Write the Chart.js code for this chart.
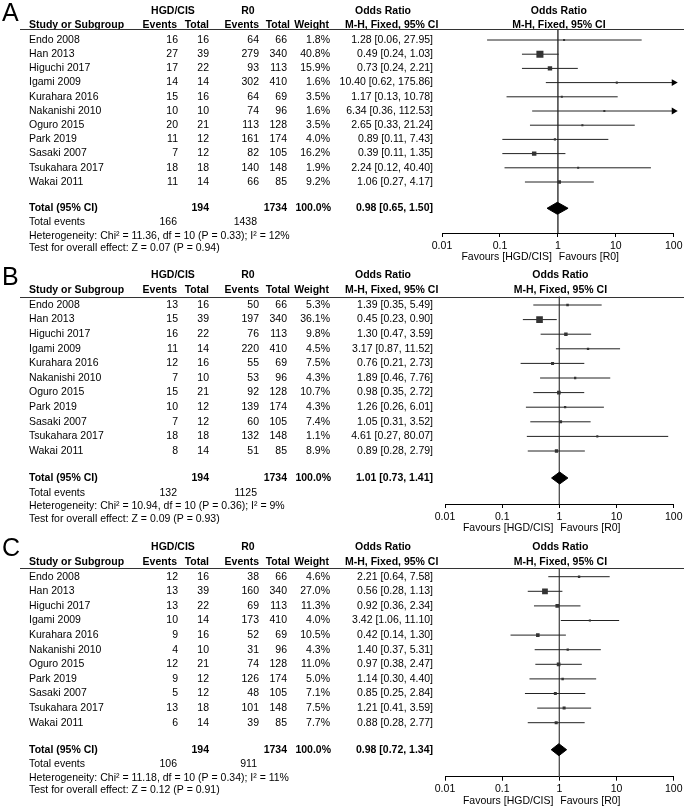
<!DOCTYPE html>
<html>
<head>
<meta charset="utf-8">
<script src="https://cdn.jsdelivr.net/npm/chart.js@4.4.0/dist/chart.umd.min.js"></script>
<style>
  body { margin: 0; background: #fff; }
  #wrap { position: relative; width: 685px; height: 807px; }
  .panel { position: absolute; left: 0; width: 685px; }
</style>
</head>
<body>
<div id="wrap">
  <div class="panel" style="top:0px;height:265px"><canvas id="panelA"></canvas></div>
  <div class="panel" style="top:265px;height:271px"><canvas id="panelB"></canvas></div>
  <div class="panel" style="top:536px;height:271px"><canvas id="panelC"></canvas></div>
</div>
<script>
// studies shared by the three analyses
const studies = ["Endo 2008", "Han 2013", "Higuchi 2017", "Igami 2009", "Kurahara 2016", "Nakanishi 2010",
  "Oguro 2015", "Park 2019", "Sasaki 2007", "Tsukahara 2017", "Wakai 2011"];
const hgdTotal = [16, 39, 22, 14, 16, 10, 21, 12, 12, 18, 14];
const r0Total = [66, 340, 113, 410, 69, 96, 128, 174, 105, 148, 85];
const tickVals = [0.01, 0.1, 1, 10, 100];
const tickLabels = ["0.01", "0.1", "1", "10", "100"];

// A
const hgdEventsA = [16, 27, 17, 14, 15, 10, 20, 11, 7, 18, 11];
const r0EventsA = [64, 279, 93, 302, 64, 74, 113, 161, 82, 140, 66];
const weightA = [1.8, 40.8, 15.9, 1.6, 3.5, 1.6, 3.5, 4.0, 16.2, 1.9, 9.2];
const orA = [1.28, 0.49, 0.73, 10.40, 1.17, 6.34, 2.65, 0.89, 0.39, 2.24, 1.06];
const loA = [0.06, 0.24, 0.24, 0.62, 0.13, 0.36, 0.33, 0.11, 0.11, 0.12, 0.27];
const hiA = [27.95, 1.03, 2.21, 175.86, 10.78, 112.53, 21.24, 7.43, 1.35, 40.40, 4.17];
const pooledA = [0.98, 0.65, 1.50];
const totEventsA = [166, 1438];
const hetA = "Heterogeneity: Chi² = 11.36, df = 10 (P = 0.33); I² = 12%";
const testA = "Test for overall effect: Z = 0.07 (P = 0.94)";

// B
const hgdEventsB = [13, 15, 16, 11, 12, 7, 15, 10, 7, 18, 8];
const r0EventsB = [50, 197, 76, 220, 55, 53, 92, 139, 60, 132, 51];
const weightB = [5.3, 36.1, 9.8, 4.5, 7.5, 4.3, 10.7, 4.3, 7.4, 1.1, 8.9];
const orB = [1.39, 0.45, 1.30, 3.17, 0.76, 1.89, 0.98, 1.26, 1.05, 4.61, 0.89];
const loB = [0.35, 0.23, 0.47, 0.87, 0.21, 0.46, 0.35, 0.26, 0.31, 0.27, 0.28];
const hiB = [5.49, 0.90, 3.59, 11.52, 2.73, 7.76, 2.72, 6.01, 3.52, 80.07, 2.79];
const pooledB = [1.01, 0.73, 1.41];
const totEventsB = [132, 1125];
const hetB = "Heterogeneity: Chi² = 10.94, df = 10 (P = 0.36); I² = 9%";
const testB = "Test for overall effect: Z = 0.09 (P = 0.93)";

// C
const hgdEventsC = [12, 13, 13, 10, 9, 4, 12, 9, 5, 13, 6];
const r0EventsC = [38, 160, 69, 173, 52, 31, 74, 126, 48, 101, 39];
const weightC = [4.6, 27.0, 11.3, 4.0, 10.5, 4.3, 11.0, 5.0, 7.1, 7.5, 7.7];
const orC = [2.21, 0.56, 0.92, 3.42, 0.42, 1.40, 0.97, 1.14, 0.85, 1.21, 0.88];
const loC = [0.64, 0.28, 0.36, 1.06, 0.14, 0.37, 0.38, 0.30, 0.25, 0.41, 0.28];
const hiC = [7.58, 1.13, 2.34, 11.10, 1.30, 5.31, 2.47, 4.40, 2.84, 3.59, 2.77];
const pooledC = [0.98, 0.72, 1.34];
const totEventsC = [106, 911];
const hetC = "Heterogeneity: Chi² = 11.18, df = 10 (P = 0.34); I² = 11%";
const testC = "Test for overall effect: Z = 0.12 (P = 0.91)";

const FONT = '"Liberation Sans", Arial, sans-serif';
const fmt = v => v.toFixed(2);

function forest(canvasId, letter, d, lay) {
  const n = studies.length;
  const totalRow = n + 0.85;
  const yMin = -(lay.firstRow - lay.lineY) / lay.step;
  const yMax = yMin + (lay.axisY - lay.lineY) / lay.step;

  // CI segments, broken with null between studies, clipped at the axis ends
  const ciPts = [];
  const arrows = [];
  for (let i = 0; i < n; i++) {
    ciPts.push({ x: Math.max(d.lo[i], 0.01), y: i });
    ciPts.push({ x: Math.min(d.hi[i], 100), y: i });
    ciPts.push({ x: Math.min(d.hi[i], 100), y: null });
    if (d.hi[i] > 100) arrows.push({ x: 100, y: i });
  }
  const squares = d.or.map((v, i) => ({ x: v, y: i }));
  const sizes = d.w.map(w => Math.max(1.45, 0.78 * Math.sqrt(w)));
  const h = 6 / lay.step;
  const diamond = [
    { x: d.pooled[1], y: totalRow }, { x: d.pooled[0], y: totalRow - h },
    { x: d.pooled[2], y: totalRow }, { x: d.pooled[0], y: totalRow + h },
    { x: d.pooled[1], y: totalRow }
  ];

  const tablePlugin = {
    id: 'table' + letter,
    afterDraw(chart) {
      const ctx = chart.ctx;
      const ys = chart.scales.y, xs = chart.scales.x;
      const ry = i => ys.getPixelForValue(i);
      const one = xs.getPixelForValue(1);
      const txt = (s, x, y, align, bold, size) => {
        ctx.font = (bold ? 'bold ' : '') + (size || 10.5) + 'px ' + FONT;
        ctx.textAlign = align;
        ctx.fillText(s, x, y);
      };
      ctx.save();
      ctx.fillStyle = '#000';
      ctx.textBaseline = 'alphabetic';
      txt(letter, 2, lay.letterBase, 'left', false, 25);

      ctx.textBaseline = 'middle';
      // header
      txt('HGD/CIS', 173, lay.head1, 'center', true);
      txt('R0', 248, lay.head1, 'center', true);
      txt('Odds Ratio', 355, lay.head1, 'left', true);
      txt('Odds Ratio', one + 1, lay.head1, 'center', true);
      txt('Study or Subgroup', 29, lay.head2, 'left', true);
      txt('Events', 177, lay.head2, 'right', true);
      txt('Total', 209, lay.head2, 'right', true);
      txt('Events', 259, lay.head2, 'right', true);
      txt('Total', 290, lay.head2, 'right', true);
      txt('Weight', 329, lay.head2, 'right', true);
      txt('M-H, Fixed, 95% CI', 345, lay.head2, 'left', true);
      txt('M-H, Fixed, 95% CI', one + 1, lay.head2, 'center', true);

      ctx.strokeStyle = '#333';
      ctx.lineWidth = 1;
      ctx.beginPath();
      ctx.moveTo(20, Math.round(chart.chartArea.top) + 0.5);
      ctx.lineTo(684, Math.round(chart.chartArea.top) + 0.5);
      ctx.stroke();

      // study rows
      for (let i = 0; i < n; i++) {
        const y = ry(i);
        txt(studies[i], 29, y, 'left');
        txt(String(d.ev1[i]), 178, y, 'right');
        txt(String(hgdTotal[i]), 209, y, 'right');
        txt(String(d.ev2[i]), 259, y, 'right');
        txt(String(r0Total[i]), 287, y, 'right');
        txt(d.w[i].toFixed(1) + '%', 330, y, 'right');
        txt(fmt(d.or[i]) + ' [' + fmt(d.lo[i]) + ', ' + fmt(d.hi[i]) + ']', 433, y, 'right');
      }
      // totals
      const ty = ry(totalRow);
      txt('Total (95% CI)', 29, ty, 'left', true);
      txt('194', 209, ty, 'right', true);
      txt('1734', 287, ty, 'right', true);
      txt('100.0%', 331, ty, 'right', true);
      txt(fmt(d.pooled[0]) + ' [' + fmt(d.pooled[1]) + ', ' + fmt(d.pooled[2]) + ']', 433, ty, 'right', true);
      const ey = ry(n + 1.85);
      txt('Total events', 29, ey, 'left');
      txt(String(d.totEv[0]), 177, ey, 'right');
      txt(String(d.totEv[1]), 257, ey, 'right');
      txt(d.het, 29, ry(n + 2.8), 'left');
      txt(d.test, 29, ry(n + 3.65), 'left');

      // favours labels under the axis
      const fy = chart.chartArea.bottom + 24.5;
      txt('Favours [HGD/CIS]', one - 6, fy, 'right');
      txt('Favours [R0]', one + 1, fy, 'left');
      ctx.restore();
    }
  };

  new Chart(document.getElementById(canvasId), {
    type: 'scatter',
    data: {
      datasets: [
        { data: [{ x: 1, y: yMin }, { x: 1, y: yMax }], showLine: true, borderColor: '#555', borderWidth: 1, pointRadius: 0, order: 10 },
        { data: ciPts, showLine: true, spanGaps: false, borderColor: '#222', borderWidth: 1, pointRadius: 0, order: 5 },
        { data: squares, pointStyle: 'rect', pointRadius: sizes, backgroundColor: '#333', borderWidth: 0, order: 1 },
        { data: arrows, pointStyle: 'triangle', rotation: 90, pointRadius: 4, backgroundColor: '#000', borderColor: '#000', borderWidth: 0, clip: false, order: 1 },
        { data: diamond, showLine: true, fill: 'shape', backgroundColor: '#000', borderColor: '#000', borderWidth: 1, pointRadius: 0, order: 1 }
      ]
    },
    options: {
      responsive: true,
      maintainAspectRatio: false,
      animation: false,
      events: [],
      layout: { padding: { left: lay.padLeft, right: 11, top: lay.lineY, bottom: lay.padBottom } },
      plugins: { legend: { display: false }, tooltip: { enabled: false } },
      scales: {
        x: {
          type: 'logarithmic',
          min: 0.01,
          max: 100,
          afterBuildTicks: s => { s.ticks = tickVals.map(v => ({ value: v })); },
          afterFit: s => { s.height = 20; },
          ticks: {
            autoSkip: false, maxRotation: 0, padding: 2.5, color: '#000',
            font: { family: FONT, size: 10.5 },
            callback: (v, i) => tickLabels[i]
          },
          grid: { display: true, drawOnChartArea: false, drawTicks: true, tickLength: 4, color: '#000' },
          border: { display: true, color: '#000', width: 1 }
        },
        y: { type: 'linear', display: false, reverse: true, min: yMin, max: yMax }
      }
    },
    plugins: [tablePlugin]
  });
}

forest('panelA', 'A',
  { ev1: hgdEventsA, ev2: r0EventsA, w: weightA, or: orA, lo: loA, hi: hiA, pooled: pooledA, totEv: totEventsA, het: hetA, test: testA },
  { padLeft: 442, lineY: 29, firstRow: 40, step: 14.2, axisY: 233, padBottom: 12, head1: 11, head2: 25, letterBase: 21 });
forest('panelB', 'B',
  { ev1: hgdEventsB, ev2: r0EventsB, w: weightB, or: orB, lo: loB, hi: hiB, pooled: pooledB, totEv: totEventsB, het: hetB, test: testB },
  { padLeft: 445, lineY: 31.5, firstRow: 40, step: 14.6, axisY: 239, padBottom: 12, head1: 10, head2: 25.5, letterBase: 20 });
forest('panelC', 'C',
  { ev1: hgdEventsC, ev2: r0EventsC, w: weightC, or: orC, lo: loC, hi: hiC, pooled: pooledC, totEv: totEventsC, het: hetC, test: testC },
  { padLeft: 445, lineY: 32, firstRow: 40.7, step: 14.6, axisY: 240.7, padBottom: 10.3, head1: 11, head2: 26.5, letterBase: 20 });
</script>
</body>
</html>
